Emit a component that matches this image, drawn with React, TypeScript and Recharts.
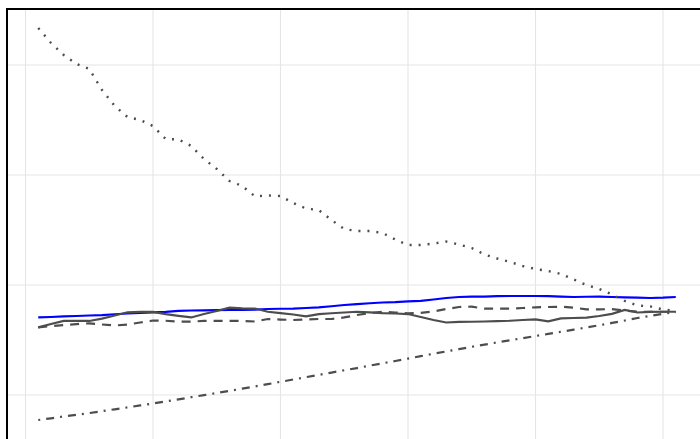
import { LineChart, Line, XAxis, YAxis, CartesianGrid, ReferenceArea } from 'recharts';

// half-year periods (plotted mid-period)
const periods = [
  1990.5, 1991, 1991.5, 1992, 1992.5, 1993, 1993.5, 1994, 1994.5, 1995,
  1995.5, 1996, 1996.5, 1997, 1997.5, 1998, 1998.5, 1999, 1999.5, 2000,
  2000.5, 2001, 2001.5, 2002, 2002.5, 2003, 2003.5, 2004, 2004.5, 2005,
  2005.5, 2006, 2006.5, 2007, 2007.5, 2008, 2008.5, 2009, 2009.5, 2010,
  2010.5, 2011, 2011.5, 2012, 2012.5, 2013, 2013.5, 2014, 2014.5, 2015,
  2015.5,
];

const dotted = [
  4.336, 4.2, 4.091, 4.009, 3.964, 3.773, 3.627, 3.527, 3.5, 3.445,
  3.327, 3.323, 3.264, 3.145, 3.055, 2.945, 2.9, 2.805, 2.814, 2.809,
  2.745, 2.695, 2.682, 2.591, 2.509, 2.491, 2.491, 2.473, 2.414, 2.364,
  2.364, 2.377, 2.395, 2.368, 2.336, 2.277, 2.241, 2.209, 2.173, 2.145,
  2.127, 2.1, 2.05, 2.0, 1.964, 1.914, 1.855, 1.814, 1.805, 1.777,
  1.764,
];

const blue = [
  1.706, 1.709, 1.714, 1.718, 1.723, 1.727, 1.734, 1.741, 1.747, 1.752,
  1.756, 1.764, 1.768, 1.77, 1.771, 1.773, 1.773, 1.777, 1.782, 1.784,
  1.786, 1.791, 1.797, 1.807, 1.818, 1.827, 1.834, 1.841, 1.845, 1.852,
  1.856, 1.868, 1.882, 1.891, 1.894, 1.895, 1.898, 1.9, 1.9, 1.9,
  1.898, 1.895, 1.891, 1.893, 1.894, 1.891, 1.888, 1.885, 1.882, 1.885,
  1.891,
];

const solid = [
  1.615, 1.645, 1.673, 1.673, 1.673, 1.695, 1.723, 1.752, 1.755, 1.755,
  1.736, 1.72, 1.705, 1.736, 1.764, 1.794, 1.788, 1.786, 1.757, 1.745,
  1.732, 1.715, 1.736, 1.743, 1.75, 1.757, 1.752, 1.745, 1.741, 1.736,
  1.709, 1.682, 1.659, 1.664, 1.666, 1.668, 1.671, 1.675, 1.682, 1.688,
  1.67, 1.697, 1.7, 1.703, 1.718, 1.738, 1.773, 1.75, 1.755, 1.757,
  1.757,
];

const dashed = [
  1.615, 1.627, 1.636, 1.645, 1.652, 1.641, 1.632, 1.641, 1.659, 1.677,
  1.675, 1.668, 1.668, 1.673, 1.673, 1.673, 1.673, 1.668, 1.691, 1.686,
  1.682, 1.686, 1.691, 1.691, 1.705, 1.727, 1.745, 1.756, 1.75, 1.743,
  1.747, 1.759, 1.782, 1.8, 1.803, 1.786, 1.784, 1.786, 1.791, 1.797,
  1.8, 1.803, 1.793, 1.779, 1.779, 1.78, 1.768, 1.757, 1.756, 1.757,
  1.757,
];

const dotdash = [
  0.773, 0.788, 0.805, 0.82, 0.836, 0.853, 0.87, 0.887, 0.905, 0.923,
  0.942, 0.961, 0.98, 0.999, 1.018, 1.038, 1.058, 1.078, 1.099, 1.12,
  1.141, 1.162, 1.183, 1.204, 1.225, 1.245, 1.267, 1.288, 1.309, 1.331,
  1.353, 1.375, 1.396, 1.417, 1.438, 1.458, 1.478, 1.498, 1.517, 1.536,
  1.555, 1.575, 1.594, 1.614, 1.634, 1.655, 1.677, 1.7, 1.72, 1.738,
  1.755,
];

const xTicks = [1990, 1995, 2000, 2005, 2010, 2015];
const yTicks = [1, 2, 3, 4];

const X_DOMAIN: [number, number] = [1989.2745, 2016.7255];
const Y_DOMAIN: [number, number] = [0.591, 4.509];

const data = periods.map((t, i) => ({
  t,
  dotted: dotted[i],
  blue: blue[i],
  solid: solid[i],
  dashed: dashed[i],
  dotdash: dotdash[i],
}));

const GREY = '#4d4d4d';
const LW = 2.2;

export default function App() {
  return (
    <div
      style={{
        position: 'absolute',
        left: 0,
        top: 0,
        width: 700,
        height: 439,
        overflow: 'hidden',
        background: '#fff',
      }}
    >
      <LineChart
        width={707}
        height={440}
        data={data}
        margin={{ top: 9, right: 0, bottom: 0, left: 7 }}
      >
        <CartesianGrid stroke="#e5e5e5" strokeWidth={1.1} />
        <XAxis
          dataKey="t"
          type="number"
          domain={X_DOMAIN}
          ticks={xTicks}
          allowDataOverflow
          hide
        />
        <YAxis type="number" domain={Y_DOMAIN} ticks={yTicks} allowDataOverflow hide />

        <Line type="linear" dataKey="blue" stroke="#0000ff" strokeWidth={LW} dot={false} isAnimationActive={false} />
        <Line type="linear" dataKey="dotted" stroke={GREY} strokeWidth={2.4} strokeDasharray="2 7" dot={false} isAnimationActive={false} />
        <Line type="linear" dataKey="dashed" stroke={GREY} strokeWidth={LW} strokeDasharray="9 7" dot={false} isAnimationActive={false} />
        <Line type="linear" dataKey="dotdash" stroke={GREY} strokeWidth={LW} strokeDasharray="2 6 8 6" dot={false} isAnimationActive={false} />
        <Line type="linear" dataKey="solid" stroke={GREY} strokeWidth={LW} dot={false} isAnimationActive={false} />

        <ReferenceArea
          x1={X_DOMAIN[0]}
          x2={X_DOMAIN[1]}
          y1={Y_DOMAIN[0]}
          y2={Y_DOMAIN[1]}
          fill="none"
          stroke="#000"
          strokeWidth={2}
          ifOverflow="visible"
        />
      </LineChart>
    </div>
  );
}
